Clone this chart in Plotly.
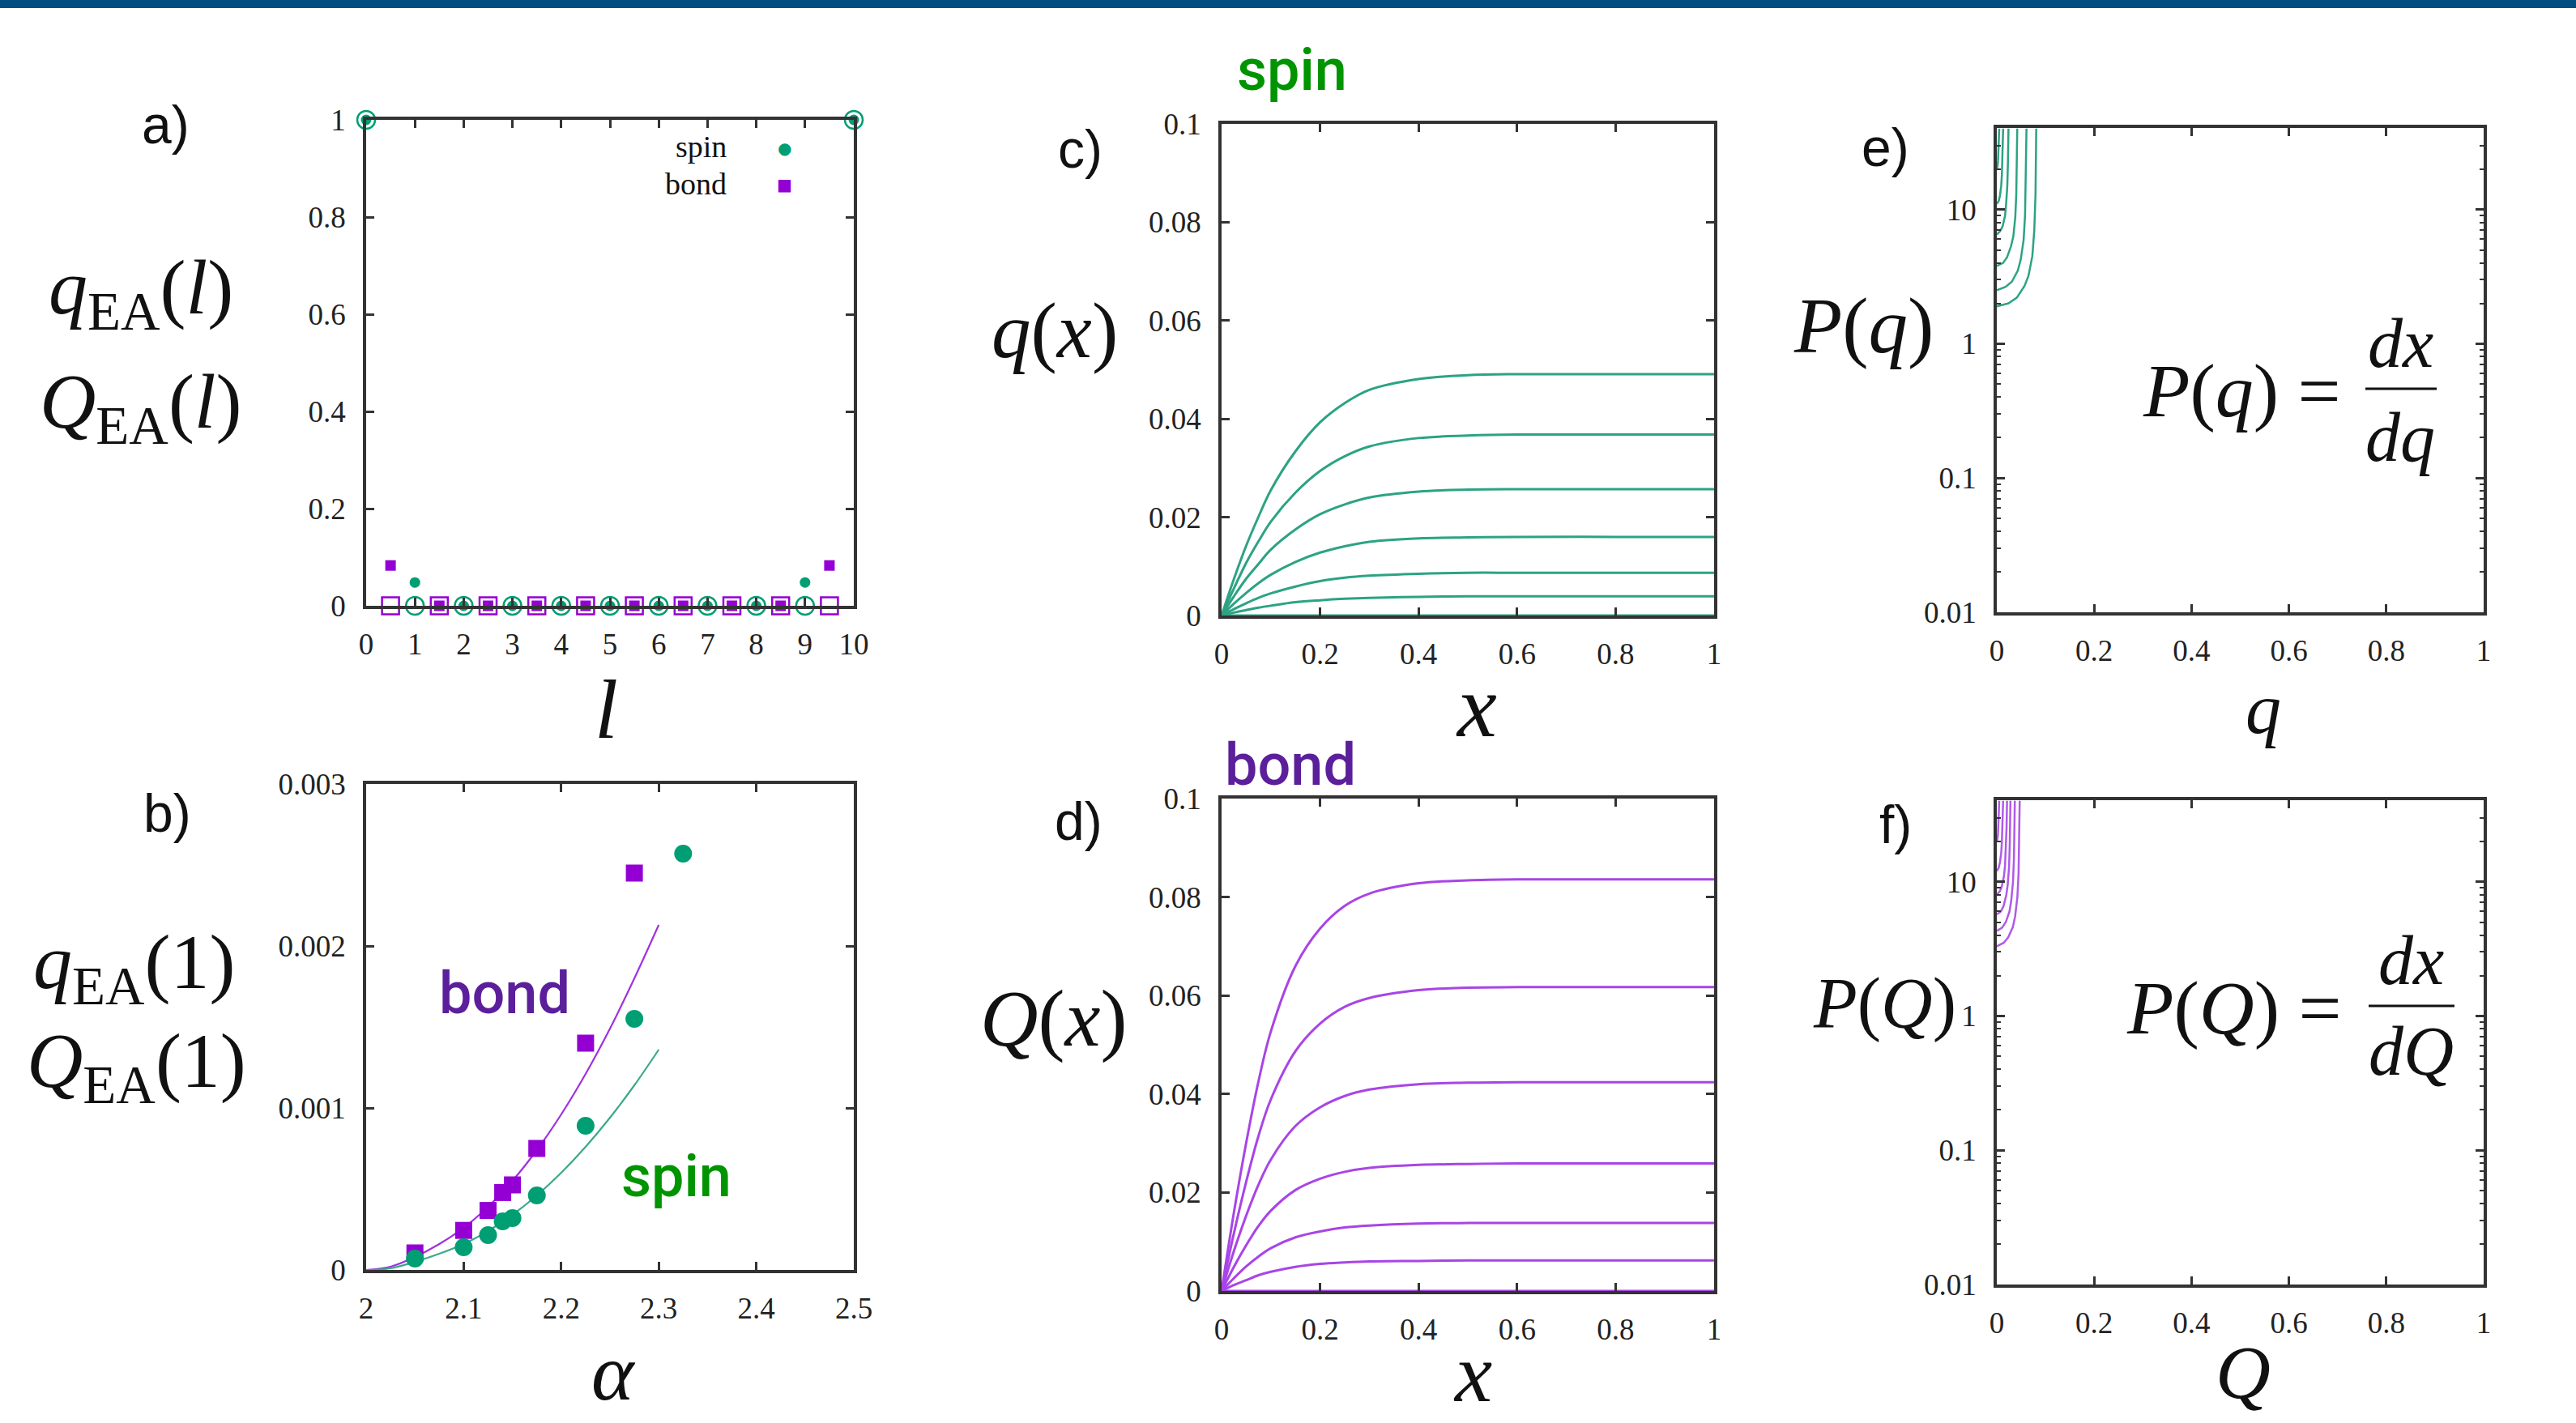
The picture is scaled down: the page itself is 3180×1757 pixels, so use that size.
import plotly.graph_objects as go

W, H = 3180, 1757

# ---------------- data ----------------
# panel a : site-resolved EA order parameter
a_spin_l = [0, 1, 2, 3, 4, 5, 6, 7, 8, 9, 10]
a_spin_q = [1.0, 0.048, 0, 0, 0, 0, 0, 0, 0, 0.048, 1.0]
a_spin_q_ref = [1.0, 0, 0, 0, 0, 0, 0, 0, 0, 0, 1.0]
a_bond_l = [0.5, 1.5, 2.5, 3.5, 4.5, 5.5, 6.5, 7.5, 8.5, 9.5]
a_bond_Q = [0.083, 0, 0, 0, 0, 0, 0, 0, 0, 0.083]
a_bond_Q_ref = [0, 0, 0, 0, 0, 0, 0, 0, 0, 0]

# panel b : q_EA(1), Q_EA(1) vs alpha
b_alpha_spin = [2.05, 2.10, 2.125, 2.14, 2.15, 2.175, 2.225, 2.275, 2.325]
b_q1_spin = [0.00007, 0.00014, 0.000215, 0.00030, 0.00032, 0.00046, 0.00089, 0.00155, 0.00257]
b_alpha_bond = [2.05, 2.10, 2.125, 2.14, 2.15, 2.175, 2.225, 2.275]
b_Q1_bond = [0.000105, 0.000244, 0.000367, 0.000478, 0.000525, 0.00075, 0.0014, 0.00245]
b_alpha_fit = [2.0, 2.025, 2.05, 2.075, 2.1, 2.125, 2.15, 2.175, 2.2, 2.225, 2.25, 2.275, 2.3]
b_fit_bond = [0, 0.00002, 0.00008, 0.00016, 0.00026, 0.00039, 0.00055, 0.00074, 0.00096,
              0.00121, 0.00149, 0.0018, 0.00213]
b_fit_spin = [0, 0.00001, 0.00005, 0.0001, 0.00016, 0.00024, 0.00034, 0.00046, 0.0006,
              0.00076, 0.00094, 0.00114, 0.00136]

# panel c : q(x)
c_x = [0, 0.025, 0.05, 0.075, 0.1, 0.15, 0.2, 0.25, 0.3, 0.4, 0.5, 0.6, 0.8, 1.0]
c_q1 = [0, .0074, .0142, .0201, .0255, .0334, .0393, .0432, .0459, .0481, .0489, .0491, .0491, .0491]
c_q2 = [0, .0055, .0107, .0151, .0191, .0250, .0294, .0324, .0344, .0361, .0366, .0368, .0368, .0368]
c_q3 = [0, .0039, .0075, .0105, .0134, .0175, .0206, .0226, .0240, .0252, .0256, .0257, .0257, .0257]
c_q4 = [0, .0024, .0046, .0066, .0083, .0109, .0128, .0141, .0150, .0157, .0159, .0160, .0160, .0160]
c_q5 = [0, .0013, .0025, .0036, .0045, .0059, .0070, .0077, .0081, .0085, .0087, .0087, .0087, .0087]
c_q6 = [0, .0006, .0011, .0016, .0020, .0027, .0031, .0034, .0036, .0038, .0039, .0039, .0039, .0039]
c_q0 = [0, 0, 0, 0, 0, 0, 0, 0, 0, 0, 0, 0, 0, 0]

# panel d : Q(x)
d_x = [0, 0.025, 0.05, 0.075, 0.1, 0.15, 0.2, 0.25, 0.3, 0.4, 0.5, 0.6, 0.8, 1.0]
d_Q1 = [0, .0159, .0301, .0426, .0527, .0660, .0736, .0782, .0807, .0828, .0834, .0836, .0836, .0836]
d_Q2 = [0, .0117, .0222, .0315, .0389, .0487, .0543, .0577, .0595, .0611, .0616, .0617, .0617, .0617]
d_Q3 = [0, .0081, .0153, .0216, .0267, .0335, .0373, .0396, .0409, .0420, .0423, .0424, .0424, .0424]
d_Q4 = [0, .0049, .0093, .0132, .0163, .0205, .0228, .0242, .0250, .0256, .0258, .0259, .0259, .0259]
d_Q5 = [0, .0026, .0050, .0070, .0087, .0109, .0121, .0129, .0133, .0137, .0138, .0138, .0138, .0138]
d_Q6 = [0, .0012, .0022, .0032, .0039, .0049, .0055, .0058, .0060, .0061, .0062, .0062, .0062, .0062]
d_Q0 = [0, 0, 0, 0, 0, 0, 0, 0, 0, 0, 0, 0, 0, 0]

# panel e : P(q)
e_q1 = [0, 0.024, 0.041, 0.057, 0.065, 0.073, 0.077, 0.0795, 0.081]
e_P1 = [1.9, 2.0, 2.2, 2.7, 3.2, 4.5, 7, 13, 40]
e_q2 = [0, 0.018, 0.031, 0.043, 0.049, 0.055, 0.058, 0.0598, 0.061]
e_P2 = [2.5, 2.65, 2.9, 3.5, 4.2, 5.9, 9, 17, 40]
e_q3 = [0, 0.013, 0.021, 0.029, 0.034, 0.038, 0.040, 0.0412, 0.042]
e_P3 = [3.8, 4.0, 4.4, 5.3, 6.3, 8.8, 13, 24, 40]
e_q4 = [0, 0.007, 0.012, 0.017, 0.019, 0.0216, 0.0228, 0.0235, 0.024]
e_P4 = [6.5, 6.9, 7.5, 9, 10.8, 15, 22, 32, 40]
e_q5 = [0, 0.004, 0.0065, 0.009, 0.0104, 0.0117, 0.0124, 0.0128, 0.013]
e_P5 = [11, 11.6, 12.7, 15, 18, 25, 33, 38, 40]
e_q6 = [0, 0.0015, 0.0025, 0.0035, 0.004, 0.0045, 0.005]
e_P6 = [20, 21, 23, 27, 31, 36, 40]

# panel f : P(Q)
f_Q1 = [0, 0.014, 0.0235, 0.033, 0.0376, 0.0423, 0.0447, 0.046, 0.047]
f_P1 = [3.3, 3.5, 3.85, 4.6, 5.5, 7.7, 11.5, 20, 40]
f_Q2 = [0, 0.011, 0.0185, 0.026, 0.0296, 0.0333, 0.0352, 0.0363, 0.037]
f_P2 = [4.3, 4.55, 5.0, 6.0, 7.2, 10, 15, 25, 40]
f_Q3 = [0, 0.0084, 0.014, 0.0196, 0.0224, 0.0252, 0.0266, 0.0274, 0.028]
f_P3 = [5.7, 6.0, 6.6, 8.0, 9.5, 13, 19, 29, 40]
f_Q4 = [0, 0.0063, 0.0105, 0.0147, 0.0168, 0.0189, 0.02, 0.0206, 0.021]
f_P4 = [8, 8.5, 9.3, 11, 13, 18, 25, 33, 40]
f_Q5 = [0, 0.0039, 0.0065, 0.0091, 0.0104, 0.0117, 0.0124, 0.0127, 0.013]
f_P5 = [12, 12.7, 14, 16.5, 19.5, 26, 32, 37, 40]
f_Q6 = [0, 0.0015, 0.0025, 0.0035, 0.004, 0.0045, 0.005]
f_P6 = [20, 21, 23, 27, 31, 36, 40]

# tick labels
a_xticks = [0, 1, 2, 3, 4, 5, 6, 7, 8, 9, 10]
a_yticks = [0, 0.2, 0.4, 0.6, 0.8, 1]
a_yticktext = ["0", "0.2", "0.4", "0.6", "0.8", "1"]
b_xticks = [2, 2.1, 2.2, 2.3, 2.4, 2.5]
b_xticktext = ["2", "2.1", "2.2", "2.3", "2.4", "2.5"]
b_yticks = [0, 0.001, 0.002, 0.003]
b_yticktext = ["0", "0.001", "0.002", "0.003"]
cd_xticks = [0, 0.2, 0.4, 0.6, 0.8, 1]
cd_xticktext = ["0", "0.2", "0.4", "0.6", "0.8", "1"]
cd_yticks = [0, 0.02, 0.04, 0.06, 0.08, 0.1]
cd_yticktext = ["0", "0.02", "0.04", "0.06", "0.08", "0.1"]
ef_yticks = [0.01, 0.1, 1, 10]
ef_yticktext = ["0.01", "0.1", "1", "10"]
ef_minor = [m * 10.0 ** k for k in range(-2, 2) for m in range(2, 10)]

# ---------------- styles ----------------
GREEN = "#009e73"
PURPLE = "#9400d3"
GREEN_LINE = "#2ca383"
PURPLE_LINE = "#a845e6"
TXT_GREEN = "#009400"
TXT_PURPLE = "#5b1f9b"
AXC = "#333333"
SERIF = "Liberation Serif"
SANS = "Roboto"


def pxx(x):
    return x / W


def pxy(y):
    return 1 - y / H


fig = go.Figure()

# panel a
fig.add_trace(go.Scatter(x=a_bond_l, y=a_bond_Q_ref, mode="markers", xaxis="x", yaxis="y",
                         marker=dict(symbol="square-open", size=21, color=PURPLE, line=dict(width=2.5)),
                         cliponaxis=False))
fig.add_trace(go.Scatter(x=a_spin_l, y=a_spin_q_ref, mode="markers", xaxis="x", yaxis="y",
                         marker=dict(symbol="circle-open", size=22, color=GREEN, line=dict(width=2.5)),
                         cliponaxis=False))
fig.add_trace(go.Scatter(x=a_bond_l, y=a_bond_Q, mode="markers", xaxis="x", yaxis="y",
                         marker=dict(symbol="square", size=13, color=PURPLE), cliponaxis=False))
fig.add_trace(go.Scatter(x=a_spin_l, y=a_spin_q, mode="markers", xaxis="x", yaxis="y",
                         marker=dict(symbol="circle", size=13, color=GREEN), cliponaxis=False))

# panel b
fig.add_trace(go.Scatter(x=b_alpha_fit, y=b_fit_bond, mode="lines", xaxis="x2", yaxis="y2",
                         line=dict(color="#a030e0", width=2.2, shape="spline")))
fig.add_trace(go.Scatter(x=b_alpha_fit, y=b_fit_spin, mode="lines", xaxis="x2", yaxis="y2",
                         line=dict(color="#3aa98a", width=2.2, shape="spline")))
fig.add_trace(go.Scatter(x=b_alpha_bond, y=b_Q1_bond, mode="markers", xaxis="x2", yaxis="y2",
                         marker=dict(symbol="square", size=21, color=PURPLE), cliponaxis=False))
fig.add_trace(go.Scatter(x=b_alpha_spin, y=b_q1_spin, mode="markers", xaxis="x2", yaxis="y2",
                         marker=dict(symbol="circle", size=22, color=GREEN), cliponaxis=False))

# panel c
for ys in [c_q0, c_q6, c_q5, c_q4, c_q3, c_q2, c_q1]:
    fig.add_trace(go.Scatter(x=c_x, y=ys, mode="lines", xaxis="x3", yaxis="y3",
                             line=dict(color=GREEN_LINE, width=3, shape="spline", smoothing=1.0)))
# panel d
for ys in [d_Q0, d_Q6, d_Q5, d_Q4, d_Q3, d_Q2, d_Q1]:
    fig.add_trace(go.Scatter(x=d_x, y=ys, mode="lines", xaxis="x4", yaxis="y4",
                             line=dict(color=PURPLE_LINE, width=3, shape="spline", smoothing=1.0)))
# panel e
for xs, ys in [(e_q1, e_P1), (e_q2, e_P2), (e_q3, e_P3), (e_q4, e_P4), (e_q5, e_P5), (e_q6, e_P6)]:
    fig.add_trace(go.Scatter(x=xs, y=ys, mode="lines", xaxis="x5", yaxis="y5",
                             line=dict(color=GREEN_LINE, width=2.5)))
# panel f
for xs, ys in [(f_Q1, f_P1), (f_Q2, f_P2), (f_Q3, f_P3), (f_Q4, f_P4), (f_Q5, f_P5), (f_Q6, f_P6)]:
    fig.add_trace(go.Scatter(x=xs, y=ys, mode="lines", xaxis="x6", yaxis="y6",
                             line=dict(color="#b05ae8", width=2.5)))


def axis(domain, anchor, rng, tickvals, ticktext, is_x, log=False):
    d = dict(domain=domain, anchor=anchor, range=rng, showline=True, linecolor=AXC, linewidth=3.5,
             mirror="ticks", ticks="inside", ticklen=10, tickwidth=2.5, tickcolor=AXC,
             showgrid=False, zeroline=False, tickmode="array", tickvals=tickvals, ticktext=ticktext,
             tickfont=dict(family=SERIF, size=37, color="#222222"), automargin=False,
             ticklabelstandoff=12 if is_x else 14, fixedrange=True)
    if log:
        d["type"] = "log"
        d["minor"] = dict(tickmode="array", tickvals=ef_minor, ticks="inside", ticklen=5,
                          tickwidth=1.5, tickcolor=AXC, showgrid=False)
    return d


ax_a = [pxx(452), pxx(1054)]
ax_c = [pxx(1508), pxx(2116)]
ax_e = [pxx(2465), pxx(3066)]

fig.update_layout(
    xaxis=axis(ax_a, "y", [0, 10], a_xticks, [str(v) for v in a_xticks], True),
    yaxis=axis([pxy(748), pxy(148)], "x", [0, 1], a_yticks, a_yticktext, False),
    xaxis2=axis(ax_a, "y2", [2, 2.5], b_xticks, b_xticktext, True),
    yaxis2=axis([pxy(1568), pxy(968)], "x2", [0, 0.003], b_yticks, b_yticktext, False),
    xaxis3=axis(ax_c, "y3", [0, 1], cd_xticks, cd_xticktext, True),
    yaxis3=axis([pxy(760), pxy(153)], "x3", [0, 0.1], cd_yticks, cd_yticktext, False),
    xaxis4=axis(ax_c, "y4", [0, 1], cd_xticks, cd_xticktext, True),
    yaxis4=axis([pxy(1594), pxy(986)], "x4", [0, 0.1], cd_yticks, cd_yticktext, False),
    xaxis5=axis(ax_e, "y5", [0, 1], cd_xticks, cd_xticktext, True),
    yaxis5=axis([pxy(756), pxy(158)], "x5", [-2, 1.607], ef_yticks, ef_yticktext, False, log=True),
    xaxis6=axis(ax_e, "y6", [0, 1], cd_xticks, cd_xticktext, True),
    yaxis6=axis([pxy(1586), pxy(988)], "x6", [-2, 1.607], ef_yticks, ef_yticktext, False, log=True),
)

annos = []


def txt(text, x, y, size, family=SERIF, color="#111111", xanchor="center", weight=None):
    f = dict(family=family, size=size, color=color)
    if weight:
        f["weight"] = weight
    annos.append(dict(text=text, x=pxx(x), y=pxy(y), xref="paper", yref="paper",
                      xanchor=xanchor, yanchor="middle", showarrow=False, font=f))


# panel letters
for s, x, y in [("a)", 204, 154), ("b)", 206, 1004), ("c)", 1333, 184), ("d)", 1331, 1014),
                ("e)", 2327, 182), ("f)", 2340, 1018)]:
    txt(s, x, y, 66, family="Liberation Sans", color="#111111")

# y labels
txt("<i>q</i><sub>EA</sub>(<i>l</i>)", 174, 362, 96)
txt("<i>Q</i><sub>EA</sub>(<i>l</i>)", 174, 502, 96)
txt("<i>q</i><sub>EA</sub>(1)", 166, 1194, 96)
txt("<i>Q</i><sub>EA</sub>(1)", 168, 1316, 96)
txt("<i>q</i>(<i>x</i>)", 1302, 408, 97)
txt("<i>Q</i>(<i>x</i>)", 1300, 1258, 99)
txt("<i>P</i>(<i>q</i>)", 2300, 402, 97)
txt("<i>P</i>(<i>Q</i>)", 2326, 1238, 88)

# x labels
txt("<i>l</i>", 748, 876, 104)
txt("<i>α</i>", 757, 1694, 100)
txt("<i>x</i>", 1822, 872, 110)
txt("<i>x</i>", 1818, 1694, 104)
txt("<i>q</i>", 2794, 876, 88)
txt("<i>Q</i>", 2769, 1694, 94)

# colored spin / bond labels
txt("spin", 1595, 86, 72, family=SANS, color=TXT_GREEN, weight=500)
txt("bond", 1593, 944, 72, family=SANS, color=TXT_PURPLE, weight=500)
txt("bond", 623, 1226, 72, family=SANS, color=TXT_PURPLE, weight=500)
txt("spin", 835, 1452, 72, family=SANS, color=TXT_GREEN, weight=500)

# legend of panel a
txt("spin", 899, 181, 38, xanchor="right")
txt("bond", 899, 227, 38, xanchor="right")
txt("●", 968, 183, 20, family="DejaVu Sans", color=GREEN)
txt("■", 968, 228, 20, family="DejaVu Sans", color=PURPLE)

# formulas
txt("<i>P</i>(<i>q</i>) =", 2892, 482, 94, xanchor="right")
txt("<i>dx</i>", 2963, 424, 86)
txt("<i>dq</i>", 2963, 540, 86)
txt("<i>P</i>(<i>Q</i>) =", 2892, 1244, 94, xanchor="right")
txt("<i>dx</i>", 2976, 1186, 86)
txt("<i>dQ</i>", 2976, 1298, 86)

shapes = [
    dict(type="rect", xref="paper", yref="paper", x0=0, x1=1, y0=pxy(10), y1=1,
         fillcolor="#024e80", line=dict(width=0), layer="above"),
    dict(type="line", xref="paper", yref="paper", x0=pxx(2920), x1=pxx(3008), y0=pxy(480), y1=pxy(480),
         line=dict(color="#111111", width=3)),
    dict(type="line", xref="paper", yref="paper", x0=pxx(2924), x1=pxx(3030), y0=pxy(1242), y1=pxy(1242),
         line=dict(color="#111111", width=3)),
]

fig.update_layout(width=W, height=H, margin=dict(l=0, r=0, t=0, b=0, autoexpand=False),
                  paper_bgcolor="white", plot_bgcolor="white", showlegend=False,
                  annotations=annos, shapes=shapes)

fig.write_html("out.html")
